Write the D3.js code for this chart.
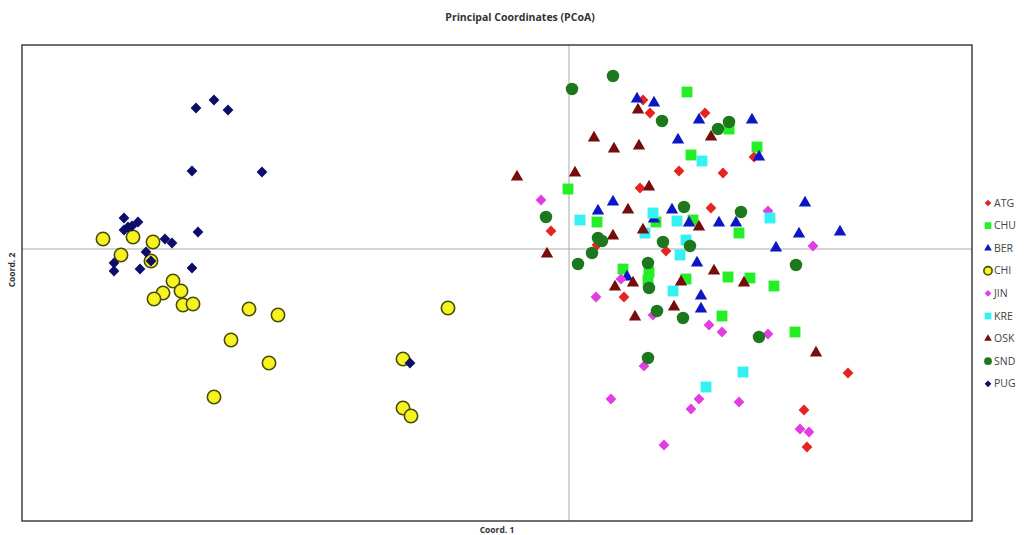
<!DOCTYPE html>
<html>
<head>
<meta charset="utf-8">
<script src="https://cdn.jsdelivr.net/npm/d3@7"></script>
<style>
  body { margin: 0; background: #fff; }
  text { font-family: "Open Sans", "Liberation Sans", sans-serif; }
</style>
</head>
<body>
<div id="chart"></div>
<script>
// PCoA coordinates [coord1, coord2] per population
var ATG = [[0.074,0.149],[0.081,0.136],[0.136,0.136],[0.185,0.092],[0.110,0.078],[0.154,0.076],[0.071,0.061],[0.142,0.041],[-0.018,0.018],[0.028,0.004],[0.097,-0.002],[0.055,-0.048],[0.279,-0.124],[0.235,-0.161],[0.238,-0.198]];
var CHU = [[0.118,0.157],[0.160,0.120],[0.188,0.102],[0.122,0.094],[-0.001,0.060],[0.028,0.027],[0.087,0.027],[0.124,0.029],[0.170,0.016],[0.054,-0.020],[0.080,-0.023],[0.079,-0.031],[0.117,-0.030],[0.159,-0.028],[0.181,-0.029],[0.205,-0.037],[0.153,-0.067],[0.226,-0.083]];
var BER = [[0.068,0.150],[0.085,0.146],[0.130,0.129],[0.183,0.129],[0.109,0.109],[0.190,0.092],[0.044,0.047],[0.029,0.038],[0.103,0.039],[0.236,0.046],[0.085,0.030],[0.120,0.026],[0.150,0.026],[0.167,0.026],[0.230,0.015],[0.271,0.017],[0.207,0.001],[0.128,-0.014],[0.058,-0.028],[0.132,-0.047],[0.132,-0.060]];
var CHI = [[-0.466,0.010],[-0.436,0.012],[-0.416,0.007],[-0.448,-0.006],[-0.418,-0.012],[-0.396,-0.032],[-0.388,-0.042],[-0.406,-0.044],[-0.415,-0.050],[-0.386,-0.056],[-0.376,-0.055],[-0.320,-0.060],[-0.291,-0.066],[-0.338,-0.091],[-0.300,-0.114],[-0.355,-0.148],[-0.121,-0.059],[-0.166,-0.110],[-0.166,-0.159],[-0.158,-0.167]];
var JIN = [[-0.028,0.049],[0.199,0.038],[0.244,0.003],[0.052,-0.030],[0.027,-0.048],[0.084,-0.066],[0.140,-0.076],[0.153,-0.083],[0.199,-0.085],[0.075,-0.117],[0.042,-0.150],[0.130,-0.150],[0.122,-0.160],[0.170,-0.153],[0.231,-0.180],[0.240,-0.183],[0.095,-0.196]];
var KRE = [[0.133,0.088],[0.011,0.029],[0.084,0.036],[0.108,0.028],[0.201,0.031],[0.076,0.016],[0.117,0.009],[0.111,-0.006],[0.104,-0.042],[0.174,-0.123],[0.137,-0.138]];
var OSK = [[0.069,0.139],[0.142,0.112],[0.025,0.111],[0.045,0.100],[0.070,0.103],[-0.052,0.072],[0.006,0.076],[0.080,0.062],[0.059,0.039],[0.130,0.022],[0.074,0.019],[0.044,0.013],[-0.022,-0.005],[0.145,-0.022],[0.064,-0.034],[0.046,-0.038],[0.112,-0.033],[0.175,-0.034],[0.105,-0.058],[0.066,-0.068],[0.247,-0.104]];
var SND = [[0.044,0.173],[0.003,0.160],[0.093,0.128],[0.160,0.127],[0.149,0.120],[-0.023,0.032],[0.115,0.042],[0.172,0.037],[0.029,0.011],[0.033,0.008],[0.023,-0.004],[0.094,0.007],[0.121,0.003],[0.009,-0.015],[0.079,-0.014],[0.227,-0.016],[0.080,-0.039],[0.088,-0.062],[0.114,-0.069],[0.190,-0.088],[0.079,-0.109]];
var PUG = [[-0.373,0.141],[-0.355,0.149],[-0.341,0.139],[-0.377,0.078],[-0.307,0.077],[-0.445,0.031],[-0.445,0.019],[-0.437,0.023],[-0.431,0.027],[-0.441,0.022],[-0.371,0.017],[-0.404,0.010],[-0.397,0.006],[-0.423,-0.003],[-0.455,-0.014],[-0.455,-0.022],[-0.429,-0.020],[-0.418,-0.012],[-0.377,-0.019],[-0.159,-0.114]];

var groupNames = ["ATG", "CHU", "BER", "CHI", "JIN", "KRE", "OSK", "SND", "PUG"];
var groupData = [ATG, CHU, BER, CHI, JIN, KRE, OSK, SND, PUG];

var xDomain = [-0.547, 0.403];
var yDomain = [-0.272, 0.204];

var width = 1033, height = 535;
var plot = {left: 22, top: 45, right: 972, bottom: 521};

// marker look for each population
var styles = {
  ATG: {shape: "diamond", fill: "#e5231f", stroke: "none"},
  CHU: {shape: "square", fill: "#26ee26", stroke: "none"},
  BER: {shape: "triangle", fill: "#0d16c4", stroke: "none"},
  CHI: {shape: "ring", fill: "#f6f321", stroke: "#4a4a08"},
  JIN: {shape: "diamond", fill: "#e23de0", stroke: "none"},
  KRE: {shape: "square", fill: "#35f1f1", stroke: "none"},
  OSK: {shape: "triangle", fill: "#760c0c", stroke: "none"},
  SND: {shape: "circle", fill: "#1d781d", stroke: "none"},
  PUG: {shape: "diamond", fill: "#0c0c6b", stroke: "none"}
};

function symbolPath(shape, k) {
  k = k || 1;
  if (shape == "diamond") return d3.symbol(d3.symbolSquare, 58 * k * k)();
  if (shape == "square") return d3.symbol(d3.symbolSquare, 118 * k * k)();
  if (shape == "triangle") return d3.symbol(d3.symbolTriangle, 66 * k * k)();
  if (shape == "ring") return d3.symbol(d3.symbolCircle, 140 * k * k)();
  return d3.symbol(d3.symbolCircle, 122 * k * k)();
}

var x = d3.scaleLinear().domain(xDomain).range([plot.left, plot.right]);
var y = d3.scaleLinear().domain(yDomain).range([plot.bottom, plot.top]);

var svg = d3.select("#chart")
    .append("svg")
    .attr("width", width)
    .attr("height", height);

// zero lines
svg.append("line")
    .attr("x1", x(0)).attr("x2", x(0))
    .attr("y1", plot.top).attr("y2", plot.bottom)
    .attr("stroke", "#aaaaaa").attr("stroke-width", 1);
svg.append("line")
    .attr("x1", plot.left).attr("x2", plot.right)
    .attr("y1", y(0)).attr("y2", y(0))
    .attr("stroke", "#aaaaaa").attr("stroke-width", 1);

groupNames.forEach(function(name, i) {
  var st = styles[name];
  svg.append("g")
      .attr("class", "series " + name)
      .selectAll("path")
      .data(groupData[i])
      .enter()
      .append("path")
      .attr("d", symbolPath(st.shape))
      .attr("transform", function(d) {
          var rot = st.shape == "diamond" ? " rotate(45)" : "";
          return "translate(" + x(d[0]) + "," + y(d[1]) + ")" + rot;
      })
      .attr("fill", st.fill)
      .attr("stroke", st.stroke)
      .attr("stroke-width", st.shape == "ring" ? 1.6 : 0);
});

// frame
svg.append("rect")
    .attr("x", plot.left).attr("y", plot.top)
    .attr("width", plot.right - plot.left)
    .attr("height", plot.bottom - plot.top)
    .attr("fill", "none")
    .attr("stroke", "#333")
    .attr("stroke-width", 1.4);

svg.append("text")
    .attr("x", 520).attr("y", 21)
    .attr("text-anchor", "middle")
    .attr("font-size", 10.5)
    .attr("font-weight", "bold")
    .attr("fill", "#333")
    .text("Principal Coordinates (PCoA)");

svg.append("text")
    .attr("x", 497).attr("y", 533)
    .attr("text-anchor", "middle")
    .attr("font-size", 8.5)
    .attr("font-weight", "bold")
    .attr("fill", "#333")
    .text("Coord. 1");

svg.append("text")
    .attr("transform", "translate(15," + 270 + ") rotate(-90)")
    .attr("text-anchor", "middle")
    .attr("font-size", 8.5)
    .attr("font-weight", "bold")
    .attr("fill", "#333")
    .text("Coord. 2");

// legend
var legend = svg.append("g")
    .selectAll("g")
    .data(groupNames)
    .enter()
    .append("g")
    .attr("transform", function(d, i) {
        return "translate(988," + (203 + i * 22.6) + ")";
    });

legend.append("path")
    .attr("d", function(d) { return symbolPath(styles[d].shape, 0.62); })
    .attr("transform", function(d) {
        return styles[d].shape == "diamond" ? "rotate(45)" : "";
    })
    .attr("fill", function(d) { return styles[d].fill; })
    .attr("stroke", function(d) { return styles[d].stroke; })
    .attr("stroke-width", function(d) { return styles[d].shape == "ring" ? 1.6 : 0; });

legend.append("text")
    .attr("x", 6)
    .attr("dy", "0.35em")
    .attr("font-size", 10.5)
    .attr("fill", "#444")
    .text(function(d) { return d; });
</script>
</body>
</html>
